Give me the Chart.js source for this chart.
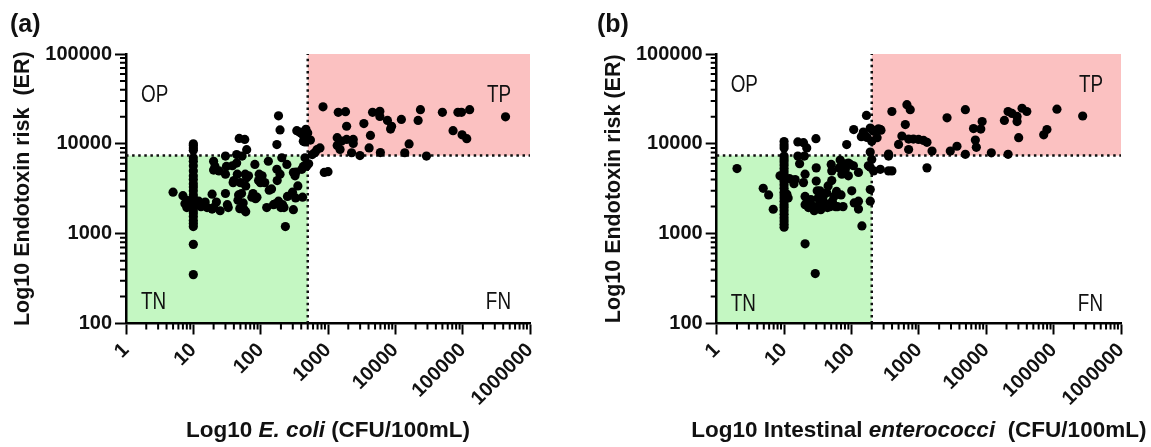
<!DOCTYPE html>
<html>
<head>
<meta charset="utf-8">
<title>Endotoxin risk vs FIB</title>
<script src="https://cdn.jsdelivr.net/npm/chart.js@4.4.1/dist/chart.umd.min.js"></script>
<style>
  html, body { margin: 0; padding: 0; background: #fff; }
  #wrap { position: relative; width: 1151px; height: 447px; overflow: hidden; }
  canvas { position: absolute; top: 0; }
  #chartA { left: 0; }
  #chartB { left: 575px; }
</style>
</head>
<body>
<div id="wrap">
  <canvas id="chartA" width="575" height="447"></canvas>
  <canvas id="chartB" width="576" height="447"></canvas>
</div>
<script>
// tick labels (log axes, only powers of ten are labelled)
const xTickLabels = [1, 10, 100, 1000, 10000, 100000, 1000000];
const yTickLabels = [100, 1000, 10000, 100000];

// thresholds
const erCutoff = 7400;
const ecoliCutoff = 500;
const enteroCutoff = 200;

// (a) E. coli vs endotoxin risk  [CFU/100mL, ER]
const ecoliPoints = [
  [10, 10000], [10, 9600], [10, 9000], [10, 8500], [10, 7000], [10, 6400], [10, 5700],
  [10, 5000], [10, 4400], [10, 4000], [10, 3600], [10, 3300], [10, 3000], [10, 2700],
  [10, 2500], [10, 2300], [10, 2150], [10, 2000], [10, 1850], [10, 1700], [10, 1550],
  [10, 1400], [10, 1300], [10, 1200], [10, 760], [10, 350],
  [5, 2900], [7, 2650], [7.5, 2150], [8, 2350], [8, 1950], [12, 2300], [13, 2000],
  [15, 2250], [16, 1950], [19, 2750], [19, 1880], [20, 1950], [20, 6400], [21, 5600],
  [20, 5100], [22, 2250], [24, 5000], [25, 1800], [30, 7300], [30, 4600], [30, 2800],
  [31, 5600], [32, 2100], [33, 1950], [38, 5700], [39, 3700], [40, 3900], [44, 7600],
  [44, 6100], [45, 4600], [46, 2350], [47, 2700], [48, 11500], [49, 1900], [50, 3700],
  [52, 2800], [53, 7300], [55, 2200], [57, 1850], [58, 11200], [59, 4600], [62, 8600],
  [62, 4200], [60, 3400], [60, 1750], [66, 4400], [74, 2550], [77, 2800], [82, 5900],
  [84, 2450], [88, 2550], [93, 3900], [95, 4600], [99, 3700], [105, 4400], [115, 3700],
  [123, 1950], [130, 6400], [134, 3050], [145, 3150], [155, 2100], [165, 2150],
  [174, 9800], [174, 5200], [176, 3900], [184, 20500], [184, 2300], [194, 14300],
  [194, 4600], [200, 1950], [206, 7000], [212, 2100], [222, 1950], [233, 1200],
  [245, 5900], [250, 2600], [297, 2900], [306, 4800], [306, 1850], [324, 4400],
  [330, 2500], [336, 4850], [344, 14000], [357, 3400], [380, 13500], [404, 13000],
  [409, 5200], [419, 2550], [430, 5600], [430, 10700], [440, 12000], [456, 7000],
  [456, 10500], [470, 14500], [484, 5650], [500, 13200], [516, 6000], [548, 11000],
  [583, 7600], [641, 8000], [684, 8600], [760, 9000], [880, 4800], [1000, 4900],
  [843, 25800], [1370, 11700], [1370, 9600], [1420, 22400], [1510, 8650], [1580, 10700],
  [1820, 22800], [1890, 15700], [1890, 11200], [2240, 7960], [2370, 11200], [2370, 10100],
  [2980, 7400], [3410, 16800], [4080, 9000], [4270, 12400], [4590, 22400], [5890, 23000],
  [5890, 20200], [6000, 8000], [7640, 18200], [8500, 14600], [8800, 15700], [12300, 18700],
  [13800, 7960], [16000, 9970], [21800, 18200], [23600, 24000], [29000, 7300], [50000, 22400],
  [72000, 14000], [85000, 22400], [96000, 22400], [98000, 12600], [115000, 11400],
  [127000, 24000], [433000, 20000]
];

// (b) intestinal enterococci vs endotoxin risk
const enteroPoints = [
  [10, 10600], [10, 9700], [10, 9000], [10, 7300], [10, 6800], [10, 6300], [10, 5800],
  [10, 5300], [10, 4900], [10, 4500], [10, 4100], [10, 3800], [10, 3500], [10, 3200],
  [10, 2900], [10, 2700], [10, 2500], [10, 2300], [10, 2100], [10, 1950], [10, 1800],
  [10, 1650], [10, 1500], [10, 1380], [10, 1270], [10, 1180],
  [2, 5300], [4.9, 3200], [5.9, 2700], [6.9, 1870], [8.7, 4400], [11, 2750], [11.5, 2500],
  [12, 4100], [14.6, 4000], [14, 3600], [16, 10500], [16, 7300], [17, 6000], [19.4, 10300],
  [19.4, 3700], [20, 7300], [20.5, 4600], [20.5, 2600], [20.5, 2100], [20.5, 770],
  [21.7, 9000], [22, 2300], [23, 1950], [25, 2400], [26, 2050], [28, 1800], [29, 360],
  [29.7, 11400], [30, 5400], [30, 3850], [31, 3000], [32, 2500], [33, 2100], [34, 3000],
  [35, 1850], [38, 2600], [40, 2200], [43, 2850], [44, 1950], [45, 3400], [48, 2000],
  [50, 5900], [51, 5000], [51, 3900], [52, 2300], [55, 2600], [58, 2000], [60, 2950],
  [62, 2000], [66, 5400], [68, 6600], [70, 2700], [72, 4600], [75, 2000], [76, 5900],
  [80, 6000], [81, 5200], [85, 9800], [90, 4400], [90, 6100], [96, 5900], [101, 3000],
  [107, 5700], [108, 14400], [110, 2200], [127, 4800], [127, 2300], [127, 1880],
  [140, 12000], [143, 1220], [150, 13500], [167, 20700], [170, 11800], [178, 5700],
  [190, 8100], [190, 5500], [190, 3100], [190, 2300], [200, 6700],
  [160, 12200], [190, 15000], [200, 10700], [200, 14400], [213, 13800], [240, 11700],
  [252, 14700], [268, 14400], [274, 14200], [213, 5000], [268, 5200], [355, 7300],
  [355, 7700], [355, 5000], [398, 5000], [398, 22900], [500, 9840], [560, 12200],
  [630, 16400], [665, 27300], [705, 11300], [705, 8650], [745, 24000], [830, 11300],
  [990, 11200], [1175, 10900], [1320, 10400], [1320, 5400], [1570, 8300], [2620, 19500],
  [2930, 8300], [3680, 9400], [4900, 24000], [4900, 7650], [6480, 14800], [6900, 11000],
  [7130, 9150], [8700, 17700], [8300, 14600], [11900, 7950], [18600, 18200], [21100, 22900],
  [24100, 21800], [28700, 20200], [28700, 17700], [34000, 24900], [40000, 22900],
  [30300, 11700], [21100, 7650], [71300, 12600], [79600, 14400], [112000, 24300],
  [270000, 20400]
];

const FONT = 'Liberation Sans, Arial, Helvetica, sans-serif';

function isPow10(v) {
  return Math.abs(Math.log10(v) - Math.round(Math.log10(v))) < 1e-9;
}

// 1..9 per decade, so the minor marks can be drawn
function logTicks(min, max) {
  const out = [];
  for (let p = min; p < max; p *= 10) {
    for (let k = 1; k < 10; k++) out.push({ value: p * k });
  }
  out.push({ value: max });
  return out;
}

// narrow lettering for the quadrant names
function narrowText(ctx, text, x, y, align) {
  ctx.save();
  ctx.translate(x, y);
  ctx.scale(0.82, 1);
  ctx.textAlign = align;
  ctx.fillText(text, 0, 0);
  ctx.restore();
}

// shaded quadrants
const quadrants = {
  id: 'quadrants',
  beforeDraw(chart, args, opts) {
    const { ctx } = chart;
    const xs = chart.scales.x, ys = chart.scales.y;
    const xc = xs.getPixelForValue(opts.cutoff);
    const yc = ys.getPixelForValue(erCutoff);
    ctx.save();
    ctx.fillStyle = 'rgb(196,247,194)';
    ctx.fillRect(xs.left, yc, xc - xs.left, ys.bottom - yc);
    ctx.fillStyle = 'rgb(251,193,193)';
    ctx.fillRect(xc, ys.top, xs.right - xc, yc - ys.top);
    ctx.restore();
  },
  beforeDatasetsDraw(chart, args, opts) {
    const { ctx, chartArea: a } = chart;
    const xs = chart.scales.x, ys = chart.scales.y;
    const xc = xs.getPixelForValue(opts.cutoff);
    const yc = ys.getPixelForValue(erCutoff);
    ctx.save();
    ctx.strokeStyle = '#111';
    ctx.lineWidth = 2.5;
    ctx.setLineDash([2.5, 3.6]);
    ctx.beginPath();
    ctx.moveTo(a.left, yc); ctx.lineTo(a.right, yc);
    ctx.moveTo(xc, a.bottom); ctx.lineTo(xc, a.top);
    ctx.stroke();
    ctx.setLineDash([]);
    // quadrant names
    const L = opts.labels;
    ctx.fillStyle = '#111';
    ctx.font = '23px ' + FONT;
    ctx.textBaseline = 'alphabetic';
    narrowText(ctx, 'OP', a.left + L.left, a.top + L.top, 'left');
    narrowText(ctx, 'TN', a.left + L.left, a.bottom - L.bottom, 'left');
    narrowText(ctx, 'TP', a.right - L.right, a.top + L.top, 'right');
    narrowText(ctx, 'FN', a.right - L.right, a.bottom - L.bottom, 'right');
    ctx.restore();
  },
  afterDraw(chart, args, opts) {
    const { ctx, chartArea: a } = chart;
    const xs = chart.scales.x, ys = chart.scales.y;
    ctx.save();
    // minor tick marks
    ctx.strokeStyle = '#000';
    ctx.lineWidth = 2;
    ctx.beginPath();
    xs.ticks.forEach(t => {
      if (isPow10(t.value)) return;
      const px = xs.getPixelForValue(t.value);
      ctx.moveTo(px, a.bottom); ctx.lineTo(px, a.bottom + 6);
    });
    ys.ticks.forEach(t => {
      if (isPow10(t.value)) return;
      const py = ys.getPixelForValue(t.value);
      ctx.moveTo(a.left, py); ctx.lineTo(a.left - 6, py);
    });
    ctx.stroke();
    // x title with italic part
    const parts = opts.xTitle;
    const fontFor = it => (it ? 'italic bold ' : 'bold ') + '22.5px ' + FONT;
    let total = 0;
    parts.forEach(p => { ctx.font = fontFor(p[1]); total += ctx.measureText(p[0]).width; });
    let x = (a.left + a.right) / 2 - total / 2;
    ctx.fillStyle = '#111';
    ctx.textAlign = 'left';
    ctx.textBaseline = 'alphabetic';
    parts.forEach(p => {
      ctx.font = fontFor(p[1]);
      ctx.fillText(p[0], x, 437);
      x += ctx.measureText(p[0]).width;
    });
    // panel letter
    ctx.font = 'bold 25px ' + FONT;
    ctx.fillText(opts.letter, opts.letterX, 32);
    ctx.restore();
  }
};

function makeChart(canvasId, p) {
  return new Chart(document.getElementById(canvasId), {
    type: 'scatter',
    data: {
      datasets: [{
        data: p.points.map(d => ({ x: d[0], y: d[1] })),
        backgroundColor: '#000',
        borderWidth: 0,
        pointRadius: 4.6,
        pointHoverRadius: 4.6
      }]
    },
    options: {
      responsive: false,
      animation: false,
      events: [],
      layout: { padding: { left: 0, right: p.padRight, top: 54, bottom: 0 } },
      plugins: {
        legend: { display: false },
        tooltip: { enabled: false },
        quadrants: {
          cutoff: p.cutoff,
          labels: p.labels,
          xTitle: p.xTitle,
          letter: p.letter,
          letterX: p.letterX
        }
      },
      scales: {
        x: {
          type: 'logarithmic',
          min: 1,
          max: 1000000,
          afterBuildTicks: s => { s.ticks = logTicks(1, 1000000); },
          afterFit: s => { s.height = 123.5; },
          border: { display: true, color: '#000', width: 2.5 },
          grid: {
            drawOnChartArea: false,
            drawTicks: true,
            tickLength: 11,
            tickWidth: 2,
            tickColor: c => (c.tick && isPow10(c.tick.value) ? '#000' : 'rgba(0,0,0,0)')
          },
          ticks: {
            autoSkip: false,
            minRotation: 45,
            maxRotation: 45,
            padding: 4,
            color: '#111',
            font: { family: FONT, weight: 'bold', size: 20 },
            callback: v => (xTickLabels.includes(v) ? String(v) : '')
          }
        },
        y: {
          type: 'logarithmic',
          min: 100,
          max: 100000,
          afterBuildTicks: s => { s.ticks = logTicks(100, 100000); },
          afterFit: s => { s.width = p.yWidth; },
          border: { display: true, color: '#000', width: 2.5 },
          grid: {
            drawOnChartArea: false,
            drawTicks: true,
            tickLength: 11,
            tickWidth: 2,
            tickColor: c => (c.tick && isPow10(c.tick.value) ? '#000' : 'rgba(0,0,0,0)')
          },
          ticks: {
            autoSkip: false,
            padding: 3,
            color: '#111',
            font: { family: FONT, weight: 'bold', size: 20 },
            callback: v => (yTickLabels.includes(v) ? String(v) : '')
          },
          title: {
            display: true,
            text: p.yTitle,
            color: '#111',
            font: { family: FONT, weight: 'bold', size: 21.5 },
            padding: { top: p.yTitlePad, bottom: 0 }
          }
        }
      }
    },
    plugins: [quadrants]
  });
}

makeChart('chartA', {
  points: ecoliPoints,
  cutoff: ecoliCutoff,
  yWidth: 126,
  padRight: 45,
  yTitlePad: 10,
  yTitle: 'Log10 Endotoxin risk  (ER)',
  xTitle: [['Log10 ', false], ['E. coli', true], [' (CFU/100mL)', false]],
  letter: '(a)',
  letterX: 10,
  labels: { left: 15, top: 48, right: 19, bottom: 15 }
});

makeChart('chartB', {
  points: enteroPoints,
  cutoff: enteroCutoff,
  yWidth: 141.7,
  padRight: 30,
  yTitlePad: 26,
  yTitle: 'Log10 Endotoxin risk (ER)',
  xTitle: [['Log10 Intestinal ', false], ['enterococci', true], ['  (CFU/100mL)', false]],
  letter: '(b)',
  letterX: 22,
  labels: { left: 14, top: 38, right: 18, bottom: 13 }
});
</script>
</body>
</html>
